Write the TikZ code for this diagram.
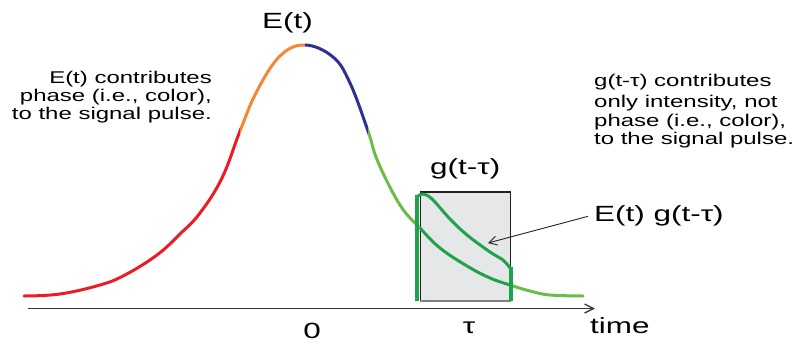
\documentclass[tikz,border=0pt]{standalone}
\usepackage{fontspec}
\setmainfont{Liberation Sans}
\usetikzlibrary{arrows.meta}
\definecolor{cred}{HTML}{EC1C24}
\definecolor{corange}{HTML}{F58634}
\definecolor{cblue}{HTML}{2E3192}
\definecolor{clgreen}{HTML}{6ABD45}
\definecolor{cdgreen}{HTML}{1EA34A}
\definecolor{cbox}{HTML}{E6E7E8}
\definecolor{cedge}{HTML}{231F20}
\definecolor{caxis}{HTML}{333333}
\newcommand\wx[1]{\scalebox{1.43}[1]{#1}}
\newcommand\ws[1]{\scalebox{1.41}[1]{#1}}
\tikzset{
  big/.style={font=\fontsize{22}{26}\selectfont, inner sep=0pt},
  small/.style={font=\fontsize{17}{18}\selectfont, inner sep=0pt},
  curve/.style={line width=3pt, line cap=round, line join=round},
  bar/.style={line width=4.5pt, cdgreen},
}
\newcommand\Ecurve{plot[smooth,tension=0.65] coordinates {(24,296) (60,294) (100,285) (125,275) (157,255) (180,234) (200,213) (222,178) (240,131) (257,91) (280,56) (305,45) (333,57) (350,83) (368,131) (378,162) (400,205) (420,228) (440,248) (467,266) (490,278) (510,285) (530,291) (550,295) (583,296)}}
\begin{document}
\begin{tikzpicture}[x=1pt,y=-1pt]
\useasboundingbox (0,0) rectangle (796,343);
% gate box
\fill[cbox] (420,192) rectangle (511,300);
\draw[cedge, line width=1.5pt] (420.5,300) -- (420.5,192) -- (510.5,192) -- (510.5,300);
\draw[gray, line width=2pt] (420,301) -- (511,301);
% axis
\coordinate (ax0) at (28,308.5);
\coordinate (ax1) at (595,308.5);
\draw[caxis, line width=1.3pt, -{Straight Barb[length=9pt,width=9pt]}] (ax0) -- (ax1);
% E(t) curve in colour segments
\begin{scope}\clip (0,0) rectangle (240,343); \draw[curve, cred] \Ecurve; \end{scope}
\begin{scope}\clip (240,0) rectangle (305,343); \draw[curve, corange] \Ecurve; \end{scope}
\begin{scope}\clip (305,0) rectangle (368,343); \draw[curve, cblue] \Ecurve; \end{scope}
\begin{scope}\clip (368,0) rectangle (420,343); \draw[curve, clgreen] \Ecurve; \end{scope}
\begin{scope}\clip (420,0) rectangle (510,343); \draw[curve, cdgreen] \Ecurve; \end{scope}
\begin{scope}\clip (510,0) rectangle (796,343); \draw[curve, clgreen] \Ecurve; \end{scope}
% product E(t) g(t-tau)
\draw[bar] (417,301) -- (417,195);
\draw[bar] (511,301) -- (511,267);
\draw[curve, cdgreen] plot[smooth,tension=0.6] coordinates {(417,197) (423,194) (432,199) (450,219) (467,235) (490,252) (503,260) (510,268)};
% labels
\node[big, anchor=base west] (Et) at (262,28) {\wx{E(t)}};
\node[small, anchor=base east] (l1) at (212,83) {\ws{E(t) contributes}};
\node[small, anchor=base east] (l2) at (212,101) {\ws{phase (i.e., color),}};
\node[small, anchor=base east] (l3) at (212,119) {\ws{to the signal pulse.}};
\node[small, anchor=base west] (r1) at (594,86) {\ws{g(t-τ) contributes}};
\node[small, anchor=base west] (r2) at (594,107) {\ws{only intensity, not}};
\node[small, anchor=base west] (r3) at (594,126) {\ws{phase (i.e., color),}};
\node[small, anchor=base west] (r4) at (594,144) {\ws{to the signal pulse.}};
\node[big, anchor=base west] (g) at (430,174) {\wx{g(t-τ)}};
\node[big, anchor=base west] (Eg) at (594,221) {\wx{E(t) g(t-τ)}};
\node[big, anchor=base] (zero) at (312,338) {\wx{0}};
\node[big, anchor=base] (tau) at (469,333) {\wx{τ}};
\node[big, anchor=base west] (time) at (590,333) {\wx{time}};
\coordinate (tip) at (488,243);
\draw[cedge, line width=0.9pt, -{Straight Barb[length=8pt,width=9pt]}] ([xshift=-6pt,yshift=-1pt]Eg.west) -- (tip);
\end{tikzpicture}
\end{document}
